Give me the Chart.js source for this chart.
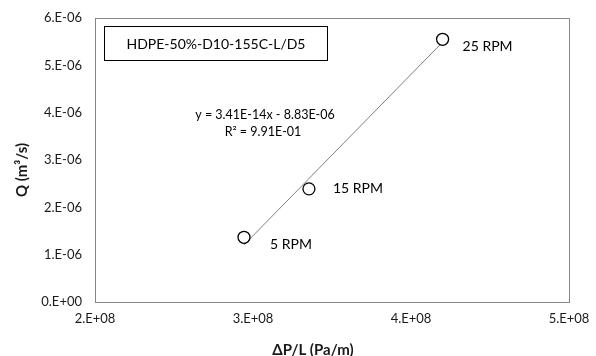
<!DOCTYPE html>
<html>
<head>
<meta charset="utf-8">
<script src="https://cdn.jsdelivr.net/npm/chart.js@4/dist/chart.umd.min.js"></script>
<style>
  html, body { margin: 0; padding: 0; background: #fff; }
  #wrap { width: 596px; height: 356px; }
</style>
</head>
<body>
<div id="wrap"><canvas id="chart" width="596" height="356"></canvas></div>
<script>
// Data
const rpmLabels = ['5 RPM', '15 RPM', '25 RPM'];
const pressureGrad = [2.943e8, 3.354e8, 4.20e8];   // ΔP/L (Pa/m)
const flowRate = [1.367e-6, 2.39e-6, 5.55e-6];     // Q (m3/s)
const trendX = [2.943e8, 4.20e8];
const trendY = [1.206e-6, 5.49e-6];
const boxTitle = 'HDPE-50%-D10-155C-L/D5';
const eqLines = ['y = 3.41E-14x - 8.83E-06', 'R² = 9.91E-01'];
const xTitle = 'ΔP/L (Pa/m)';
const yTitle = 'Q (m³/s)';

const FONT = 'Lato, "Open Sans", sans-serif';
const labelShift = [[26, 7], [24, 0], [20, 7]];

// format like Excel "0.E+00"
function sci(v) {
    if (Math.abs(v) < 1e-20) return '0.E+00';
    const [m, e] = v.toExponential(0).split('e');
    const n = parseInt(e, 10);
    return m + '.E' + (n < 0 ? '-' : '+') + String(Math.abs(n)).padStart(2, '0');
}

const annotations = {
    id: 'annotations',
    afterDatasetsDraw(chart) {
        const ctx = chart.ctx;
        const area = chart.chartArea;
        const xs = chart.scales.x, ys = chart.scales.y;
        ctx.save();
        // frame on top and right
        ctx.strokeStyle = '#868686';
        ctx.lineWidth = 1;
        ctx.beginPath();
        ctx.moveTo(area.left, area.top + 0.5);
        ctx.lineTo(area.right + 0.5, area.top + 0.5);
        ctx.lineTo(area.right + 0.5, area.bottom);
        ctx.stroke();

        // title box
        ctx.strokeStyle = '#000';
        ctx.strokeRect(area.left + 9.5, area.top + 8.5, 223, 34);
        ctx.fillStyle = '#000';
        ctx.font = '14px ' + FONT;
        ctx.textAlign = 'center';
        ctx.textBaseline = 'middle';
        ctx.fillText(boxTitle, area.left + 121, area.top + 26);

        // trendline equation
        ctx.font = '12.5px ' + FONT;
        ctx.fillText(eqLines[0], area.left + 170, area.top + 97);
        ctx.fillText(eqLines[1], area.left + 168, area.top + 114);

        // axis titles
        ctx.fillStyle = '#1a1a1a';
        ctx.font = 'bold 15px ' + FONT;
        ctx.fillText(xTitle, area.left + 218, area.bottom + 48);
        ctx.save();
        ctx.translate(22, area.top + 152);
        ctx.rotate(-Math.PI / 2);
        ctx.fillText(yTitle, 0, 0);
        ctx.restore();

        // point labels
        ctx.fillStyle = '#000';
        ctx.font = '14px ' + FONT;
        ctx.textAlign = 'left';
        rpmLabels.forEach((t, i) => {
            const px = xs.getPixelForValue(pressureGrad[i]);
            const py = ys.getPixelForValue(flowRate[i]);
            ctx.fillText(t, px + labelShift[i][0], py + labelShift[i][1]);
        });
        ctx.restore();
    }
};

new Chart(document.getElementById('chart'), {
    type: 'scatter',
    data: {
        datasets: [
            {
                label: 'trend',
                data: trendX.map((x, i) => ({ x: x, y: trendY[i] })),
                showLine: true,
                borderColor: '#7f7f7f',
                borderWidth: 1,
                pointRadius: 0,
                order: 2
            },
            {
                label: 'Q',
                data: pressureGrad.map((x, i) => ({ x: x, y: flowRate[i] })),
                pointStyle: 'circle',
                pointRadius: 6,
                borderColor: '#000',
                borderWidth: 1.3,
                backgroundColor: '#fff',
                order: 1
            }
        ]
    },
    options: {
        responsive: false,
        animation: false,
        layout: { padding: { top: 18, right: 27, left: 0, bottom: 0 } },
        plugins: {
            legend: { display: false },
            tooltip: { enabled: false }
        },
        scales: {
            x: {
                type: 'linear',
                min: 2e8,
                max: 5e8,
                afterFit: s => { s.height = 54; },
                grid: { display: false, drawTicks: true, tickLength: 5, color: '#868686' },
                border: { color: '#868686' },
                ticks: {
                    stepSize: 1e8,
                    padding: 4,
                    color: '#1a1a1a',
                    font: { family: FONT, size: 13 },
                    callback: v => sci(v)
                }
            },
            y: {
                type: 'linear',
                min: 0,
                max: 6e-6,
                afterFit: s => { s.width = 95; },
                grid: { display: false, drawTicks: true, tickLength: 5, color: '#868686' },
                border: { color: '#868686' },
                ticks: {
                    stepSize: 1e-6,
                    padding: 8,
                    color: '#1a1a1a',
                    font: { family: FONT, size: 13 },
                    callback: v => sci(v)
                }
            }
        }
    },
    plugins: [annotations]
});
</script>
</body>
</html>
